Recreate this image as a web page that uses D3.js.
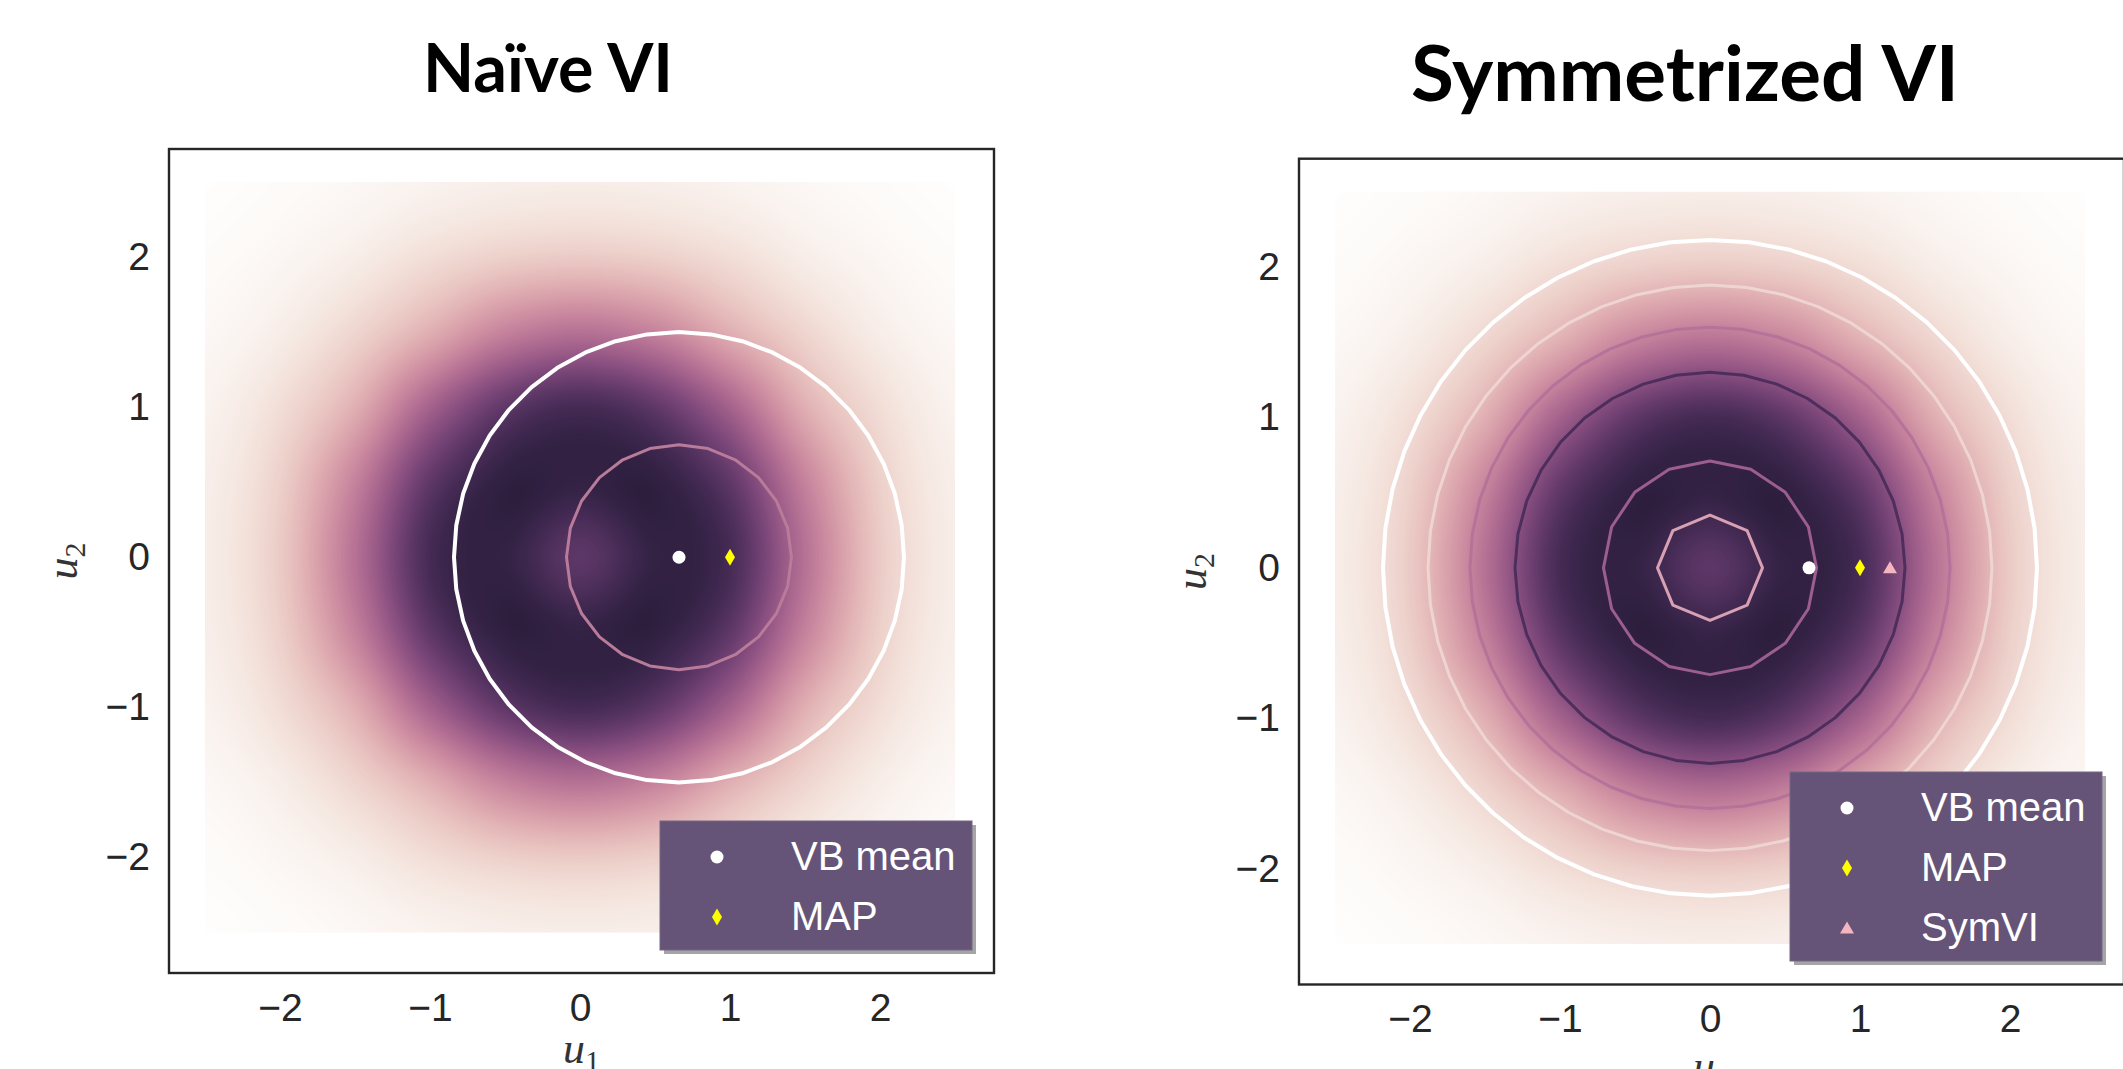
<!DOCTYPE html>
<html>
<head>
<meta charset="utf-8">
<script src="https://cdn.jsdelivr.net/npm/d3@7"></script>
<style>
    body { margin: 0; background: #fff; }
    svg { display: block; }
</style>
</head>
<body>
<svg id="fig" width="2123" height="1069"></svg>
<script>
// posterior density on a 0.5 grid, as colormap position (0 = white, 1 = darkest)
const gridU = [-2.5, -2, -1.5, -1, -0.5, 0, 0.5, 1, 1.5, 2, 2.5];
const gridV = [2.5, 2, 1.5, 1, 0.5, 0, -0.5, -1, -1.5, -2, -2.5];
const density = [
    [0.005, 0.015, 0.03, 0.05, 0.065, 0.07, 0.065, 0.05, 0.03, 0.015, 0.005],
    [0.015, 0.035, 0.07, 0.13, 0.18, 0.20, 0.18, 0.13, 0.07, 0.035, 0.015],
    [0.03, 0.07, 0.16, 0.30, 0.47, 0.54, 0.47, 0.30, 0.16, 0.07, 0.03],
    [0.05, 0.13, 0.30, 0.61, 0.84, 0.92, 0.84, 0.61, 0.30, 0.13, 0.05],
    [0.065, 0.18, 0.47, 0.84, 0.99, 0.975, 0.99, 0.84, 0.47, 0.18, 0.065],
    [0.07, 0.20, 0.54, 0.92, 0.975, 0.85, 0.975, 0.92, 0.54, 0.20, 0.07],
    [0.065, 0.18, 0.47, 0.84, 0.99, 0.975, 0.99, 0.84, 0.47, 0.18, 0.065],
    [0.05, 0.13, 0.30, 0.61, 0.84, 0.92, 0.84, 0.61, 0.30, 0.13, 0.05],
    [0.03, 0.07, 0.16, 0.30, 0.47, 0.54, 0.47, 0.30, 0.16, 0.07, 0.03],
    [0.015, 0.035, 0.07, 0.13, 0.18, 0.20, 0.18, 0.13, 0.07, 0.035, 0.015],
    [0.005, 0.015, 0.03, 0.05, 0.065, 0.07, 0.065, 0.05, 0.03, 0.015, 0.005]
];

// contour rings of the approximations
const naiveRingCenter = [0.66, 0];
const naiveRingRadii = [1.5, 0.75];
const symRingCenter = [0, 0];
const symRingRadii = [2.18, 1.88, 1.60, 1.30, 0.71, 0.35];

// point estimates
const pointNames = ["VB mean", "MAP", "SymVI"];
const naivePoints = [[0.66, 0], [1.0, 0]];
const symPoints = [[0.66, 0], [1.0, 0], [1.2, 0]];

const ticks = [-2, -1, 0, 1, 2];

// seaborn cubehelix_palette(light=1, as_cmap=True)
function cubehelixSeaborn(t) {
    const x = 1 - 0.85 * t;
    const a = 0.8 * x * (1 - x) / 2;
    const phi = 2 * Math.PI * 0.4 * x;
    const c = Math.cos(phi), s = Math.sin(phi);
    const cl = v => Math.round(255 * Math.max(0, Math.min(1, v)));
    return d3.rgb(
        cl(x + a * (-0.14861 * c + 1.78277 * s)),
        cl(x + a * (-0.29227 * c - 0.90649 * s)),
        cl(x + a * (1.97294 * c))
    ).formatHex();
}
const color = d3.scaleSequential(cubehelixSeaborn).domain([0, 1]).clamp(true);
const lut = d3.range(256).map(i => d3.rgb(color(i / 255)));

function cubic(p0, p1, p2, p3, t) {
    return p1 + 0.5 * t * (p2 - p0 + t * (2 * p0 - 5 * p1 + 4 * p2 - p3 + t * (3 * (p1 - p2) + p3 - p0)));
}

function sampleGrid(fx, fy) {
    const n = density.length, m = density[0].length;
    const i = Math.max(0, Math.min(Math.floor(fy), n - 2));
    const j = Math.max(0, Math.min(Math.floor(fx), m - 2));
    const ty = fy - i, tx = fx - j;
    const ci = k => Math.max(0, Math.min(n - 1, k));
    const cj = k => Math.max(0, Math.min(m - 1, k));
    const col = [];
    for (let di = -1; di <= 2; di++) {
        const r = density[ci(i + di)];
        col.push(cubic(r[cj(j - 1)], r[j], r[j + 1], r[cj(j + 2)], tx));
    }
    return cubic(col[0], col[1], col[2], col[3], ty);
}

const panels = [
    {
        title: "Naïve VI", titleX: 548, titleY: 92, titleSize: 66, titleLen: 250,
        left: 169, right: 994, top: 149, bottom: 973,
        ringCenter: naiveRingCenter, rings: naiveRingRadii,
        ringColors: ["#ffffff", "#b97b9a"], ringSides: [44, 24], ringWidths: [4, 3],
        points: naivePoints,
        legendX: 660, legendY: 821,
        ylabX: 77, xlabY: 1063
    },
    {
        title: "Symmetrized VI", titleX: 1685, titleY: 101, titleSize: 77, titleLen: 548,
        left: 1299, right: 2124, top: 158.7, bottom: 984.5,
        ringCenter: symRingCenter, rings: symRingRadii,
        ringColors: ["#ffffff", "#efd5d2", "#b5739a", "#4d2e5d", "#9c5e8d", "#d8a0b3"],
        ringSides: [52, 48, 44, 36, 16, 8], ringWidths: [4, 3, 3, 3, 3, 3],
        points: symPoints,
        legendX: 1790, legendY: 772,
        ylabX: 1206, xlabY: 1081
    }
];

const markerFill = ["#ffffff", "#ffff00", "#f4b4c0"];
const markerPath = [
    d3.symbol(d3.symbolCircle, Math.PI * 6.5 * 6.5)(),
    "M0,-8.5L5,0L0,8.5L-5,0Z",
    "M0,-6.5L7,5.5L-7,5.5Z"
];

const svg = d3.select("#fig");

panels.forEach(p => {
    const x = d3.scaleLinear().domain([-2.74, 2.76]).range([p.left, p.right]);
    const y = d3.scaleLinear().domain([-2.77, 2.72]).range([p.bottom, p.top]);
    const g = svg.append("g");

    // heatmap
    const x0 = x(gridU[0]), x1 = x(gridU[gridU.length - 1]);
    const y0 = y(gridV[0]), y1 = y(gridV[gridV.length - 1]);
    const w = Math.round(x1 - x0), h = Math.round(y1 - y0);
    const fxs = d3.scaleLinear().domain([gridU[0], gridU[gridU.length - 1]]).range([0, gridU.length - 1]);
    const fys = d3.scaleLinear().domain([gridV[0], gridV[gridV.length - 1]]).range([0, gridV.length - 1]);
    const canvas = document.createElement("canvas");
    canvas.width = w; canvas.height = h;
    const ctx = canvas.getContext("2d");
    const img = ctx.createImageData(w, h);
    for (let py = 0; py < h; py++) {
        const fy = fys(y.invert(y0 + (py + 0.5) * (y1 - y0) / h));
        for (let px = 0; px < w; px++) {
            const fx = fxs(x.invert(x0 + (px + 0.5) * (x1 - x0) / w));
            let t = sampleGrid(fx, fy);
            t = Math.max(0, Math.min(1, t));
            const c = lut[Math.round(t * 255)];
            const k = 4 * (py * w + px);
            img.data[k] = c.r; img.data[k + 1] = c.g; img.data[k + 2] = c.b; img.data[k + 3] = 255;
        }
    }
    ctx.putImageData(img, 0, 0);
    g.append("image")
        .attr("href", canvas.toDataURL())
        .attr("x", x0).attr("y", y0)
        .attr("width", x1 - x0).attr("height", y1 - y0)
        .attr("preserveAspectRatio", "none");

    // contour rings
    const line = d3.line().x(d => x(d[0])).y(d => y(d[1])).curve(d3.curveLinearClosed);
    p.rings.forEach((r, i) => {
        const n = p.ringSides[i];
        const pts = d3.range(n).map(k => {
            const a = 2 * Math.PI * k / n;
            return [p.ringCenter[0] + r * Math.cos(a), p.ringCenter[1] + r * Math.sin(a)];
        });
        g.append("path")
            .attr("d", line(pts))
            .attr("fill", "none")
            .attr("stroke", p.ringColors[i])
            .attr("stroke-width", p.ringWidths[i])
            .attr("stroke-linejoin", "round");
    });

    // point estimates
    p.points.forEach((pt, i) => {
        g.append("path")
            .attr("d", markerPath[i])
            .attr("transform", `translate(${x(pt[0])},${y(pt[1])})`)
            .attr("fill", markerFill[i]);
    });

    // frame
    g.append("rect")
        .attr("x", p.left).attr("y", p.top)
        .attr("width", p.right - p.left).attr("height", p.bottom - p.top)
        .attr("fill", "none").attr("stroke", "#262626").attr("stroke-width", 2.4);

    // axes
    const fmt = d3.format("d");
    const ax = g.append("g")
        .attr("transform", `translate(0,${p.bottom})`)
        .call(d3.axisBottom(x).tickValues(ticks).tickFormat(fmt).tickSize(0).tickPadding(20));
    const ay = g.append("g")
        .attr("transform", `translate(${p.left},0)`)
        .call(d3.axisLeft(y).tickValues(ticks).tickFormat(fmt).tickSize(0).tickPadding(19));
    [ax, ay].forEach(a => {
        a.select(".domain").remove();
        a.selectAll("text")
            .attr("font-family", "'Liberation Sans', Arial, sans-serif")
            .attr("font-size", 39)
            .attr("fill", "#262626");
    });

    // axis labels
    const xl = g.append("text")
        .attr("x", (p.left + p.right) / 2).attr("y", p.xlabY)
        .attr("text-anchor", "middle")
        .attr("font-family", "'Liberation Serif', 'DejaVu Serif', serif")
        .attr("font-size", 44).attr("fill", "#333");
    xl.append("tspan").attr("font-style", "italic").text("u");
    xl.append("tspan").attr("font-size", 30).attr("dy", 8).text("1");

    const yc = (p.top + p.bottom) / 2;
    const yl = g.append("text")
        .attr("transform", `translate(${p.ylabX},${yc}) rotate(-90)`)
        .attr("text-anchor", "middle")
        .attr("font-family", "'Liberation Serif', 'DejaVu Serif', serif")
        .attr("font-size", 44).attr("fill", "#333");
    yl.append("tspan").attr("font-style", "italic").text("u");
    yl.append("tspan").attr("font-size", 30).attr("dy", 8).text("2");

    // legend
    const nRows = p.points.length;
    const lw = 312, lh = 36 + 60 * (nRows - 1) + 33;
    const lg = g.append("g").attr("transform", `translate(${p.legendX},${p.legendY})`);
    lg.append("rect").attr("x", 4).attr("y", 4).attr("width", lw).attr("height", lh)
        .attr("fill", "#8e8e8e").attr("opacity", 0.8);
    lg.append("rect").attr("width", lw).attr("height", lh)
        .attr("fill", "#655478").attr("stroke", "#746685").attr("stroke-width", 1);
    p.points.forEach((pt, i) => {
        const ry = 36 + 60 * i;
        lg.append("path").attr("d", markerPath[i])
            .attr("transform", `translate(57,${ry})`)
            .attr("fill", markerFill[i]);
        lg.append("text").attr("x", 131).attr("y", ry + 13)
            .attr("font-family", "'Liberation Sans', Arial, sans-serif")
            .attr("font-size", 40).attr("fill", "#ffffff")
            .text(pointNames[i]);
    });

    // title
    g.append("text")
        .attr("x", p.titleX).attr("y", p.titleY)
        .attr("text-anchor", "middle")
        .attr("font-family", "Lato, 'Open Sans', sans-serif")
        .attr("font-weight", "bold")
        .attr("font-size", p.titleSize)
        .attr("textLength", p.titleLen)
        .attr("lengthAdjust", "spacingAndGlyphs")
        .attr("fill", "#000")
        .text(p.title);
});
</script>
</body>
</html>
